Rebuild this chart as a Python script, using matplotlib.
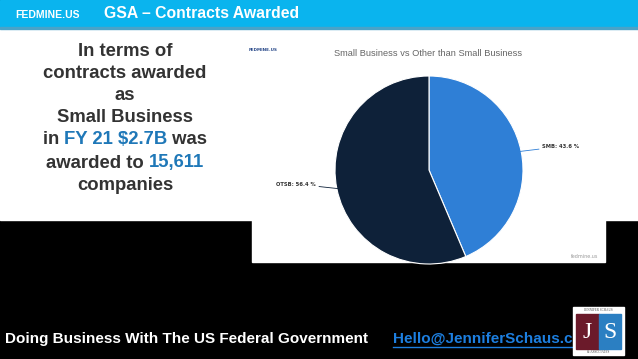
import matplotlib.pyplot as plt
from matplotlib.patches import Rectangle
import numpy as np

# data
categorias = ['SMB', 'OTSB']
porcentajes = [43.6, 56.4]
colores = ['#2f7fd6', '#0e2139']

titulo = 'GSA – Contracts Awarded'
titulo_grafico = 'Small Business vs Other than Small Business'
pie_pagina = 'Doing Business With The US Federal Government'
correo = 'Hello@JenniferSchaus.co'

W, H = 638, 359
fig = plt.figure(figsize=(W / 100, H / 100), dpi=100)
fondo = fig.add_axes([0, 0, 1, 1])
fondo.set_xlim(0, W)
fondo.set_ylim(H, 0)
fondo.axis('off')

# bloques de fondo
fondo.add_patch(Rectangle((0, 0), W, H, color='black', zorder=0))
fondo.add_patch(Rectangle((0, 28), W, 192, color='white', zorder=1))
fondo.add_patch(Rectangle((0, 0), W, 28, color='#0ab4ee', zorder=2))
fondo.add_patch(Rectangle((0, 27), W, 1.5, color='#4aa3c8', zorder=2))
fondo.add_patch(Rectangle((252, 30), 353, 232, color='white', zorder=1))

# cabecera
fondo.text(15, 15, 'FEDMINE.US', color='white', fontsize=7.5, fontweight='bold',
           family='Liberation Sans', va='center', zorder=3)
fondo.text(104, 14, titulo, color='white', fontsize=11.3, fontweight='bold',
           family='Liberation Sans', va='center', zorder=3)

# texto de la izquierda
gris = '#333333'
azul = '#1f78b8'
lineas = [
    [('In terms of', gris)],
    [('contracts awarded', gris)],
    [('as', gris)],
    [('Small Business', gris)],
    [('in ', gris), ('FY 21 $2.7B', azul), (' was', gris)],
    [('awarded to ', gris), ('15,611', azul)],
    [('companies', gris)],
]
ys = [51, 73, 96, 118, 140, 163, 185]
r = fig.canvas.get_renderer()
for partes, y in zip(lineas, ys):
    textos = []
    for s, c in partes:
        t = fondo.text(0, y, s, color=c, fontsize=13.3, fontweight='bold',
                       family='Liberation Sans', va='center', zorder=3)
        textos.append(t)
    anchos = [t.get_window_extent(r).width for t in textos]
    x = 125 - sum(anchos) / 2
    for t, a in zip(textos, anchos):
        t.set_x(x)
        x += a

# imagen del grafico
fondo.text(263, 50, 'FEDMINE.US', color='#2a4a8a', fontsize=3, fontweight='bold',
           va='center', ha='center', zorder=3)
fondo.text(428, 53, titulo_grafico, color='#666666', fontsize=6.7,
           family='Liberation Sans', va='center', ha='center', zorder=3)
fondo.text(598, 257, 'fedmine.us', color='#999999', fontsize=3.5,
           va='center', ha='right', zorder=3)

cx, cy, rad = 429, 170, 94
m = 1.02
ax = fig.add_axes([(cx - rad * m) / W, (H - cy - rad * m) / H,
                   2 * rad * m / W, 2 * rad * m / H])
wedges, _ = ax.pie(porcentajes, colors=colores, startangle=90, counterclock=False,
                   wedgeprops=dict(edgecolor='white', linewidth=0.8))
ax.set_xlim(-m, m)
ax.set_ylim(-m, m)
ax.set_zorder(4)
for w, cat, p in zip(wedges, categorias, porcentajes):
    ang = np.deg2rad((w.theta1 + w.theta2) / 2)
    x, y = np.cos(ang), np.sin(ang)
    lado = 1 if x > 0 else -1
    ax.annotate(f'{cat}: {p} %', xy=(x * 0.99, y * 0.99),
                xytext=(x + lado * 0.22, y + 0.05),
                ha='left' if lado > 0 else 'right', va='center',
                fontsize=3.8, fontweight='bold', color='#333333',
                arrowprops=dict(arrowstyle='-', color='#2f7fd6' if lado > 0 else '#0e2139',
                                linewidth=0.6, shrinkA=0, shrinkB=0),
                annotation_clip=False)

# pie de pagina
fondo.text(5, 339, pie_pagina, color='white', fontsize=11, fontweight='bold',
           family='Liberation Sans', va='center', zorder=3)
t = fondo.text(393, 339, correo, color='#1d7fe0', fontsize=11, fontweight='bold',
               family='Liberation Sans', va='center', zorder=3)
bb = t.get_window_extent(r)
fondo.plot([393, 393 + bb.width], [347, 347], color='#1d7fe0', linewidth=1, zorder=3)

# logo JS
fondo.add_patch(Rectangle((573, 307), 51, 48, color='white', zorder=5))
fondo.add_patch(Rectangle((576, 314), 23, 35, color='#6b1a2a', zorder=6))
fondo.add_patch(Rectangle((599, 314), 22, 35, color='#2b7fc2', zorder=6))
fondo.text(587, 332, 'J', color='white', fontsize=17, family='Liberation Serif',
           ha='center', va='center', zorder=7)
fondo.text(610, 332, 'S', color='white', fontsize=17, family='Liberation Serif',
           ha='center', va='center', zorder=7)
fondo.text(598, 310, 'JENNIFER SCHAUS', color='#444444', fontsize=2.3,
           family='Liberation Serif', ha='center', va='center', zorder=7)
fondo.text(598, 352, '& ASSOCIATES', color='#444444', fontsize=2.3,
           family='Liberation Serif', ha='center', va='center', zorder=7)

fig.savefig('out.png', dpi=100)
